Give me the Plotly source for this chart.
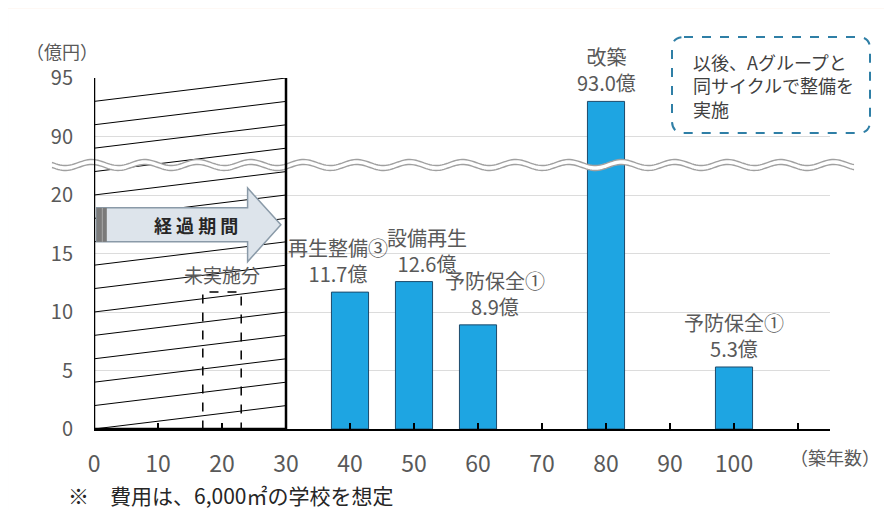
import numpy as np
import plotly.graph_objects as go

# データ
years = [40, 50, 60, 80, 100]
costs = [11.7, 12.6, 8.9, 93.0, 5.3]
works = ["再生整備③", "設備再生", "予防保全①", "改築", "予防保全①"]
label_shift = [-12, 13, 17, 0, 0]

x_tick_vals = [0, 10, 20, 30, 40, 50, 60, 70, 80, 90, 100, 110]
x_tick_text = ["0", "10", "20", "30", "40", "50", "60", "70", "80", "90", "100", ""]
y_tick_vals = [0, 5, 10, 15, 20, 90, 95]

elapsed_years = 30
undone_years = [17, 23]
undone_cost = 11.7

note = "※　費用は、6,000㎡の学校を想定"
box_text = "以後、Aグループと<br>同サイクルで整備を<br>実施"

# 軸の省略（20と90の間）
CUT = 65


def to_axis(v):
    return v - CUT if v > 50 else v


FONT = "Noto Sans CJK JP"
GRAY = "#595959"

fig = go.Figure()
fig.add_trace(go.Bar(
    x=years, y=[to_axis(c) for c in costs], width=5.8,
    marker=dict(color="#1ea5e2", line=dict(color="#1d4a6b", width=1)),
    hoverinfo="skip",
))

shapes = []
# 背景（枠）
shapes.append(dict(type="rect", xref="paper", yref="paper", x0=-0.1168, x1=1.3, y0=-0.4, y1=1.199,
                   fillcolor="white", line_width=0, layer="below"))

# 経過期間の斜線
for c in range(0, 30, 2):
    shapes.append(dict(type="line", x0=0, x1=elapsed_years, y0=c, y1=c + 2,
                       line=dict(color="black", width=1), layer="above"))

# 未実施分
shapes.append(dict(type="rect", x0=undone_years[0], x1=undone_years[1], y0=0, y1=undone_cost,
                   line=dict(color="black", width=1.5, dash="dash"), layer="above"))

# 波線（軸の省略）
px = np.arange(52, 855, 2.0)
xp = (px - 94) / 736
wave = 3 * np.sin(2 * np.pi * (px - 52) / 53)
up = (429 - (165 - 2.5 + wave)) / 351
lo = (429 - (165 + 2.5 + wave)) / 351
band = "M" + " L".join(f"{a:.4f},{b:.4f}" for a, b in zip(xp, up))
band += " L" + " L".join(f"{a:.4f},{b:.4f}" for a, b in zip(xp[::-1], lo[::-1])) + " Z"
shapes.append(dict(type="path", xref="paper", yref="paper", path=band,
                   fillcolor="white", line_width=0, layer="above"))
for yy in (up, lo):
    p = "M" + " L".join(f"{a:.4f},{b:.4f}" for a, b in zip(xp, yy))
    shapes.append(dict(type="path", xref="paper", yref="paper", path=p,
                       fillcolor="rgba(0,0,0,0)", line=dict(color="#a0a0a0", width=1.4), layer="above"))

# 経過期間の枠
for x0, y0, x1, y1 in [(0, 0, 0, 30), (elapsed_years, 0, elapsed_years, 30), (0, 0, elapsed_years, 0)]:
    shapes.append(dict(type="line", x0=x0, x1=x1, y0=y0, y1=y1,
                       line=dict(color="black", width=2.5), layer="above"))

# 矢印
arrow = "M 0.4,16.0 L 24,16.0 L 24,14.3 L 29.2,17.45 L 24,20.6 L 24,18.9 L 0.4,18.9 Z"
shapes.append(dict(type="path", path=arrow, fillcolor="#dde4eb",
                   line=dict(color="#8a9aa8", width=1.5), layer="above"))
shapes.append(dict(type="rect", x0=0.4, x1=2.0, y0=16.0, y1=18.9,
                   fillcolor="#7a7a7a", line_width=0, layer="above"))
shapes.append(dict(type="line", x0=1.3, x1=1.3, y0=16.0, y1=18.9,
                   line=dict(color="#a8a8a8", width=1), layer="above"))

# 点線の囲み
bx0, bx1 = (672 - 94) / 736, (870 - 94) / 736
by0, by1 = (429 - 133) / 351, (429 - 37) / 351
rx, ry = 12 / 736, 12 / 351
rounded = (f"M {bx0 + rx},{by1} L {bx1 - rx},{by1} Q {bx1},{by1} {bx1},{by1 - ry} "
           f"L {bx1},{by0 + ry} Q {bx1},{by0} {bx1 - rx},{by0} L {bx0 + rx},{by0} "
           f"Q {bx0},{by0} {bx0},{by0 + ry} L {bx0},{by1 - ry} Q {bx0},{by1} {bx0 + rx},{by1} Z")
shapes.append(dict(type="path", xref="paper", yref="paper", path=rounded,
                   fillcolor="rgba(0,0,0,0)", line=dict(color="#2f7fa6", width=2, dash="dash"),
                   layer="above"))

annotations = []
for x, c, w, s in zip(years, costs, works, label_shift):
    annotations.append(dict(x=x, y=to_axis(c), text=f"{w}<br>{c:.1f}億", showarrow=False,
                            xanchor="center", yanchor="bottom", yshift=2, xshift=s,
                            font=dict(family=FONT, size=20, color=GRAY)))
annotations += [
    dict(x=sum(undone_years) / 2, y=undone_cost, text="未実施分", showarrow=False,
         yanchor="bottom", yshift=2, font=dict(family=FONT, size=19, color=GRAY)),
    dict(x=15.9, y=17.45, text="<b>経 過 期 間</b>", showarrow=False,
         font=dict(family=FONT, size=18, color="#262626")),
    dict(xref="paper", yref="paper", x=(691 - 94) / 736, y=(429 - 47) / 351, text=box_text,
         showarrow=False, xanchor="left", yanchor="top", align="left",
         font=dict(family=FONT, size=18, color="#404040")),
    dict(xref="paper", yref="paper", x=(24 - 94) / 736, y=(429 - 51) / 351, text="（億円）",
         showarrow=False, xanchor="left", yanchor="middle",
         font=dict(family=FONT, size=18, color=GRAY)),
    dict(xref="paper", yref="paper", x=(788 - 94) / 736, y=(429 - 457) / 351, text="（築年数）",
         showarrow=False, xanchor="left", yanchor="middle",
         font=dict(family=FONT, size=18, color=GRAY)),
    dict(xref="paper", yref="paper", x=(66 - 94) / 736, y=(429 - 495) / 351, text=note,
         showarrow=False, xanchor="left", yanchor="middle",
         font=dict(family=FONT, size=21, color="#262626")),
]

fig.update_layout(
    width=892, height=510,
    margin=dict(l=86, r=70, t=70, b=89),
    paper_bgcolor="#fce4d4", plot_bgcolor="rgba(0,0,0,0)",
    showlegend=False,
    shapes=shapes, annotations=annotations,
    xaxis=dict(range=[0, 115], tickvals=x_tick_vals, ticktext=x_tick_text,
               ticks="inside", ticklen=6, tickwidth=1.5, tickcolor="black",
               showline=True, linecolor="black", linewidth=1.5,
               showgrid=False, zeroline=False, ticklabelstandoff=14,
               tickfont=dict(family=FONT, size=23, color=GRAY)),
    yaxis=dict(range=[0, 30], tickvals=[to_axis(v) for v in y_tick_vals],
               ticktext=[str(v) for v in y_tick_vals],
               showgrid=True, gridcolor="#dcdcdc", gridwidth=1,
               zeroline=False, showline=False, ticks="", ticklabelstandoff=20,
               tickfont=dict(family=FONT, size=20, color=GRAY)),
)

fig.write_html("out.html")
